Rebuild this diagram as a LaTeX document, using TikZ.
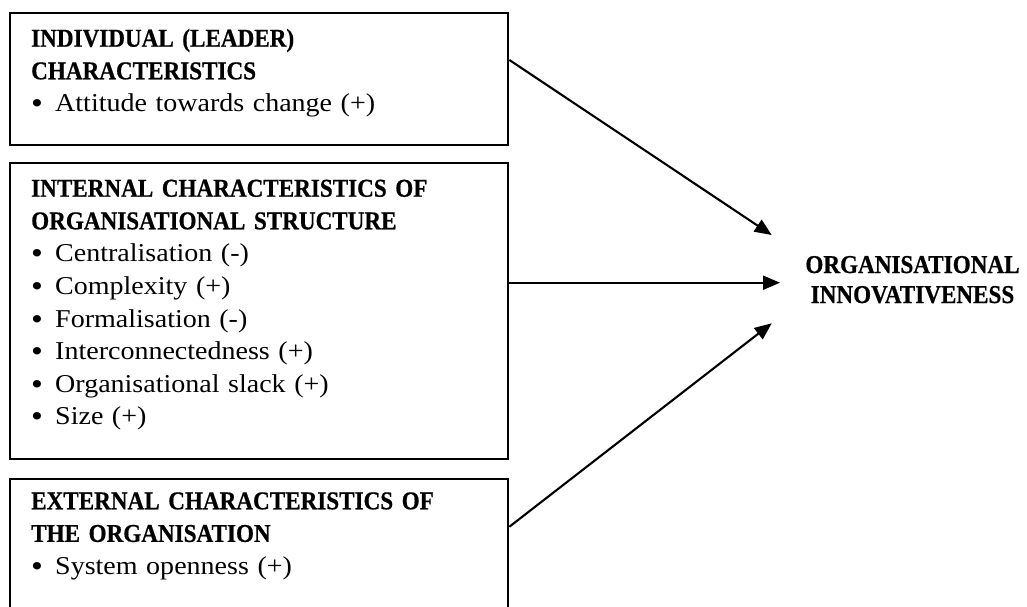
\documentclass[tikz,border=0pt]{standalone}
\usepackage{fontspec}
\setmainfont{Liberation Serif}[UprightFeatures={FakeStretch=1.09},BoldFeatures={FakeStretch=0.9,FakeBold=0.6}]
\usetikzlibrary{arrows.meta}

\newlength{\du}
\setlength{\du}{1pt}

\tikzset{
  frame/.style={draw, line width=2.1\du, rectangle, anchor=north west, inner sep=0pt},
  boxtext/.style={anchor=base west, text width=465\du, align=left, inner sep=0pt,
    font=\fontsize{25.7}{32.6}\selectfont},
  link/.style={line width=2.1\du, -{Triangle[length=17pt,width=14pt]}},
}
\newcommand{\itm}[1]{\makebox[24\du][l]{\raisebox{-2\du}{\fontsize{31}{0}\selectfont\textbullet}}#1}

\begin{document}
\begin{tikzpicture}
\pgftransformyscale{-1.000000}
\useasboundingbox (0\du,0\du) rectangle (1027\du,606\du);
\clip (0\du,0\du) rectangle (1027\du,606\du);
% left boxes
\node[frame, minimum width=498\du, minimum height=132\du] (lead) at (9.3\du,11.7\du) {};
\node[boxtext] (leadtxt) at (31\du,46.7\du) {{\bfseries INDIVIDUAL (LEADER)\\CHARACTERISTICS}\\
\itm{Attitude towards change (+)}};
\node[frame, minimum width=498\du, minimum height=296.3\du] (inner) at (9.3\du,161.7\du) {};
\node[boxtext] (innertxt) at (31\du,196.7\du) {{\bfseries INTERNAL CHARACTERISTICS OF\\ORGANISATIONAL STRUCTURE}\\
\itm{Centralisation (-)}\\
\itm{Complexity (+)}\\
\itm{Formalisation (-)}\\
\itm{Interconnectedness (+)}\\
\itm{Organisational slack (+)}\\
\itm{Size (+)}};
\node[frame, minimum width=498\du, minimum height=200\du] (outer) at (9.3\du,478\du) {};
\node[boxtext] (outertxt) at (31\du,509.3\du) {{\bfseries EXTERNAL CHARACTERISTICS OF\\THE ORGANISATION}\\
\itm{System openness (+)}};
% outcome
\node[anchor=base, text width=240\du, align=center, inner sep=0pt,
  font=\fontsize{25.7}{30}\selectfont\bfseries] (org) at (912.5\du,273\du) {ORGANISATIONAL\\INNOVATIVENESS};
\coordinate (out1) at (0\du,60\du);
\coordinate (out3) at (0\du,526.7\du);
\coordinate (in1) at (771.7\du,235\du);
\coordinate (in2) at (780\du,282.7\du);
\coordinate (in3) at (771.7\du,323.3\du);
% arrows
\draw[link] (lead.east |- out1) -- (in1);
\draw[link] (inner.east |- in2) -- (in2);
\draw[link] (outer.east |- out3) -- (in3);
\end{tikzpicture}
\end{document}
